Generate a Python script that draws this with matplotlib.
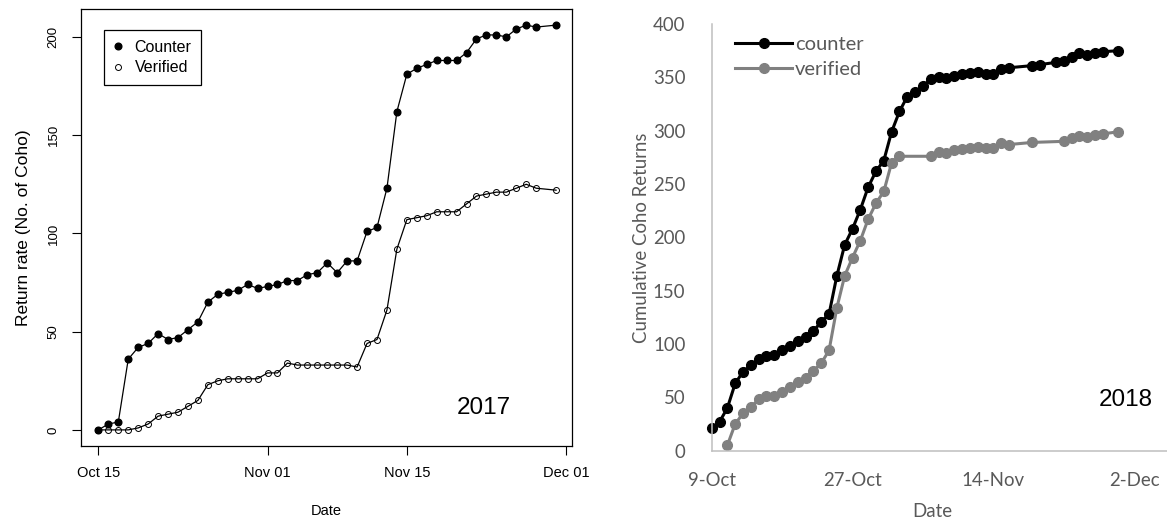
import matplotlib
matplotlib.use("Agg")
import matplotlib.pyplot as plt
import pandas as pd

# 2017 panel (daily counts from Oct 15, no record for Nov 29)
dates_2017 = ["2017-10-15", "2017-10-16", "2017-10-17", "2017-10-18", "2017-10-19", "2017-10-20",
              "2017-10-21", "2017-10-22", "2017-10-23", "2017-10-24", "2017-10-25", "2017-10-26",
              "2017-10-27", "2017-10-28", "2017-10-29", "2017-10-30", "2017-10-31", "2017-11-01",
              "2017-11-02", "2017-11-03", "2017-11-04", "2017-11-05", "2017-11-06", "2017-11-07",
              "2017-11-08", "2017-11-09", "2017-11-10", "2017-11-11", "2017-11-12", "2017-11-13",
              "2017-11-14", "2017-11-15", "2017-11-16", "2017-11-17", "2017-11-18", "2017-11-19",
              "2017-11-20", "2017-11-21", "2017-11-22", "2017-11-23", "2017-11-24", "2017-11-25",
              "2017-11-26", "2017-11-27", "2017-11-28", "2017-11-30"]
counter_2017 = [0, 3, 4, 36, 42, 44, 49, 46, 47, 51, 55, 65, 69, 70, 71, 74, 72, 73, 74, 76,
                76, 79, 80, 85, 80, 86, 86, 101, 103, 123, 162, 181, 184, 186, 188, 188, 188,
                192, 199, 201, 201, 200, 204, 206, 205, 206]
verified_2017 = [0, 0, 0, 0, 1, 3, 7, 8, 9, 12, 15, 23, 25, 26, 26, 26, 26, 29, 29, 34,
                 33, 33, 33, 33, 33, 33, 32, 44, 46, 61, 92, 107, 108, 109, 111, 111, 111,
                 115, 119, 120, 121, 121, 123, 125, 123, 122]
ticks_2017 = ["2017-10-15", "2017-11-01", "2017-11-15", "2017-12-01"]
ticklabels_2017 = ["Oct 15", "Nov 01", "Nov 15", "Dec 01"]

# 2018 panel
dates_counter_2018 = ["2018-10-09", "2018-10-10", "2018-10-11", "2018-10-12", "2018-10-13",
                      "2018-10-14", "2018-10-15", "2018-10-16", "2018-10-17", "2018-10-18",
                      "2018-10-19", "2018-10-20", "2018-10-21", "2018-10-22", "2018-10-23",
                      "2018-10-24", "2018-10-25", "2018-10-26", "2018-10-27", "2018-10-28",
                      "2018-10-29", "2018-10-30", "2018-10-31", "2018-11-01", "2018-11-02",
                      "2018-11-03", "2018-11-04", "2018-11-05", "2018-11-06", "2018-11-07",
                      "2018-11-08", "2018-11-09", "2018-11-10", "2018-11-11", "2018-11-12",
                      "2018-11-13", "2018-11-14", "2018-11-15", "2018-11-16", "2018-11-19",
                      "2018-11-20", "2018-11-22", "2018-11-23", "2018-11-24", "2018-11-25",
                      "2018-11-26", "2018-11-27", "2018-11-28", "2018-11-30"]
counter_2018 = [21, 27, 40, 63, 74, 80, 86, 89, 90, 94, 98, 103, 107, 112, 121, 128, 164, 193,
                208, 226, 247, 262, 272, 299, 318, 332, 336, 342, 348, 350, 349, 351, 353, 354,
                355, 353, 353, 358, 359, 361, 362, 364, 365, 369, 373, 371, 373, 374, 375]
dates_verified_2018 = ["2018-10-11", "2018-10-12", "2018-10-13", "2018-10-14", "2018-10-15",
                       "2018-10-16", "2018-10-17", "2018-10-18", "2018-10-19", "2018-10-20",
                       "2018-10-21", "2018-10-22", "2018-10-23", "2018-10-24", "2018-10-25",
                       "2018-10-26", "2018-10-27", "2018-10-28", "2018-10-29", "2018-10-30",
                       "2018-10-31", "2018-11-01", "2018-11-02", "2018-11-06", "2018-11-07",
                       "2018-11-08", "2018-11-09", "2018-11-10", "2018-11-11", "2018-11-12",
                       "2018-11-13", "2018-11-14", "2018-11-15", "2018-11-16", "2018-11-19",
                       "2018-11-23", "2018-11-24", "2018-11-25", "2018-11-26", "2018-11-27",
                       "2018-11-28", "2018-11-30"]
verified_2018 = [5, 25, 35, 41, 48, 51, 51, 55, 60, 64, 68, 75, 82, 94, 134, 164, 181, 197,
                 217, 232, 243, 270, 276, 276, 280, 279, 282, 283, 284, 285, 284, 284, 288,
                 287, 289, 290, 293, 295, 294, 296, 297, 299]
ticks_2018 = ["2018-10-09", "2018-10-27", "2018-11-14", "2018-12-02"]
ticklabels_2018 = ["9-Oct", "27-Oct", "14-Nov", "2-Dec"]

W, H = 1167, 520
fig = plt.figure(figsize=(W / 100, H / 100), dpi=100)

def px_axes(x0, y0, x1, y1):
    # axes placed by pixel box measured from the top-left corner
    return fig.add_axes([x0 / W, 1 - y1 / H, (x1 - x0) / W, (y1 - y0) / H])

# ---------------- left: R style ----------------
arial = "Liberation Sans"
ax1 = px_axes(81, 9, 572, 446)
d17 = pd.to_datetime(dates_2017)
ax1.plot(d17, counter_2017, color="black", lw=0.9, marker="o", ms=4.8,
         mfc="black", mec="black", label="Counter")
ax1.plot(d17, verified_2017, color="black", lw=0.9, marker="o", ms=4.3,
         mfc="none", mec="black", mew=0.7, label="Verified")

start17 = pd.Timestamp("2017-10-15")
ax1.set_xlim(start17 - pd.Timedelta(days=1.75), start17 + pd.Timedelta(days=47.6))
ax1.set_ylim(-8.2, 214.2)
ax1.set_xticks(pd.to_datetime(ticks_2017))
ax1.set_xticklabels(ticklabels_2017, fontsize=10.5, family=arial)
ax1.set_yticks([0, 50, 100, 150, 200])
ax1.set_yticklabels(["0", "50", "100", "150", "200"], fontsize=9.5, family=arial,
                    rotation=90, va="center")
ax1.tick_params(axis="both", direction="out", length=6.5, width=0.8, color="black")
ax1.tick_params(axis="x", pad=8)
ax1.tick_params(axis="y", pad=9)
for s in ax1.spines.values():
    s.set_linewidth(0.9)
    s.set_color("black")
ax1.set_xlabel("Date", fontsize=10.5, family=arial, labelpad=17)
ax1.set_ylabel("Return rate (No. of Coho)", fontsize=12.5, family=arial, labelpad=12)
ax1.text(484, H - 408, "2017", transform=None, fontsize=17.5, family=arial,
         ha="center", va="center")
leg1 = ax1.legend(loc="upper left", bbox_to_anchor=(0.047, 0.952), borderaxespad=0,
                  fancybox=False, edgecolor="black", framealpha=1, handlelength=0.6,
                  handletextpad=0.7, labelspacing=0.35, borderpad=0.6,
                  prop={"family": arial, "size": 11.5})
leg1.get_frame().set_linewidth(0.9)
for line in leg1.get_lines():
    line.set_linestyle("none")

# ---------------- right: Excel style ----------------
calib = "Lato"
grey_txt = "#595959"
ax2 = px_axes(711.7, 24, 1167, 450.7)
dc18 = pd.to_datetime(dates_counter_2018)
dv18 = pd.to_datetime(dates_verified_2018)
ax2.plot(dc18, counter_2018, color="black", lw=2.2, marker="o", ms=7,
         label="counter", clip_on=False)
ax2.plot(dv18, verified_2018, color="#808080", lw=2.2, marker="o", ms=7,
         label="verified", clip_on=False)

start18 = pd.Timestamp("2018-10-09")
ax2.set_xlim(start18, start18 + pd.Timedelta(days=58.2))
ax2.set_ylim(0, 400)
ax2.set_xticks(pd.to_datetime(ticks_2018))
ax2.set_xticklabels(ticklabels_2018, fontsize=13.4, family=calib, color=grey_txt)
ax2.set_yticks(range(0, 401, 50))
ax2.set_yticklabels([str(v) for v in range(0, 401, 50)], fontsize=13.4,
                    family=calib, color=grey_txt)
ax2.tick_params(axis="both", length=0)
ax2.tick_params(axis="x", pad=15)
ax2.tick_params(axis="y", pad=19)
for side in ["top", "right"]:
    ax2.spines[side].set_visible(False)
for side in ["left", "bottom"]:
    ax2.spines[side].set_color("#bfbfbf")
    ax2.spines[side].set_linewidth(1.1)
ax2.set_xlabel("Date", fontsize=13.4, family=calib, color=grey_txt)
ax2.xaxis.set_label_coords((932 - 711.7) / (1167 - 711.7), -(503 - 450.7) / 426.7)
ax2.set_ylabel("Cumulative Coho Returns", fontsize=13.4, family=calib, color=grey_txt)
ax2.yaxis.set_label_coords(-(711.7 - 650) / (1167 - 711.7), 0.5)
ax2.text(1126, H - 400, "2018", transform=None, fontsize=17.5, family=arial,
         ha="center", va="center")
ax2.legend(loc="upper left", bbox_to_anchor=(0.051, 0.971), borderaxespad=0, borderpad=0,
           frameon=False, handlelength=2.85, handletextpad=0.12, labelspacing=0.35,
           prop={"family": calib, "size": 14.5}, labelcolor=grey_txt)

fig.savefig("out.png", dpi=100)
